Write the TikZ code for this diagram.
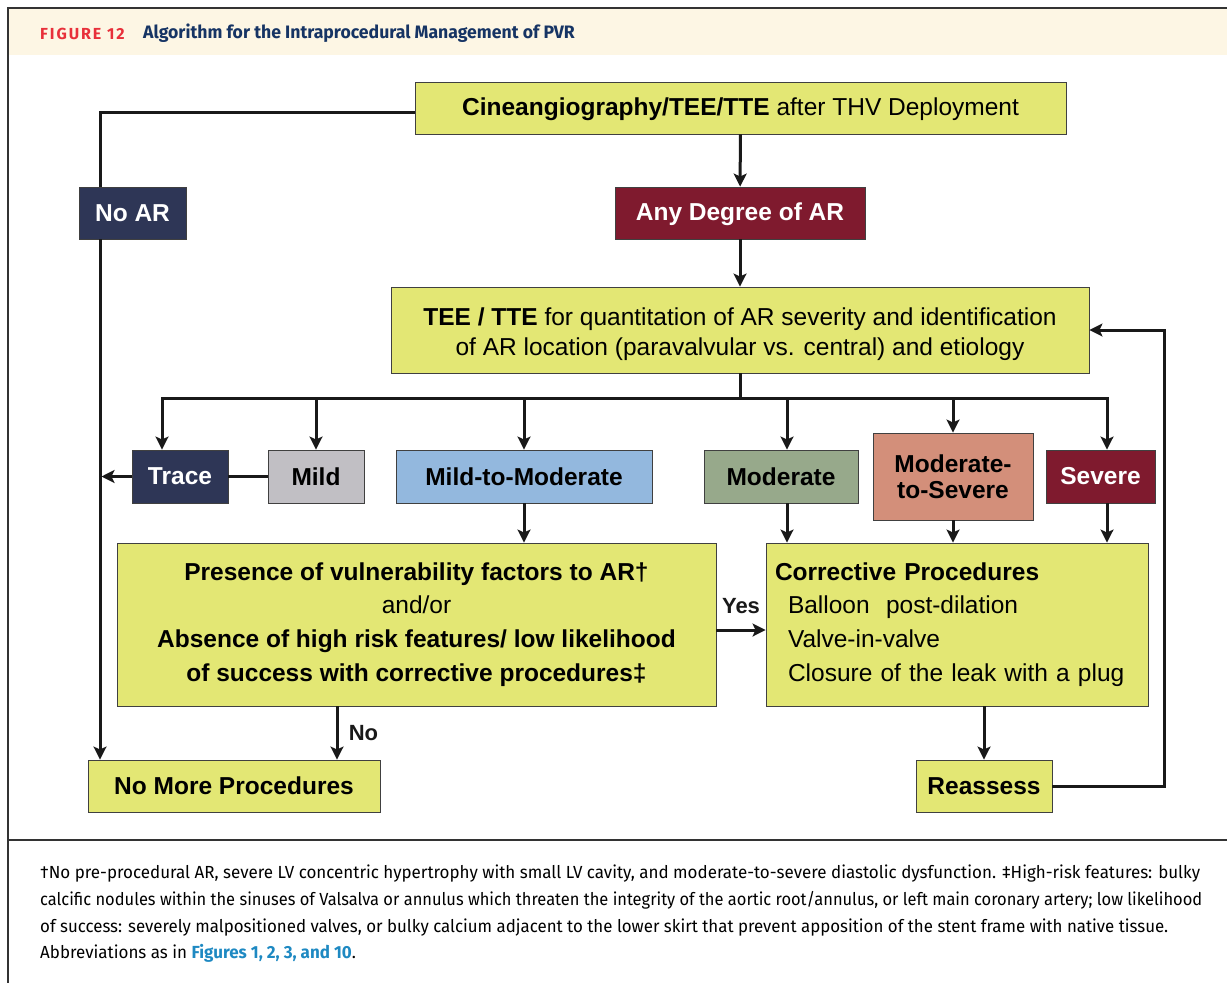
\documentclass[tikz,border=0pt]{standalone}
\usepackage{fontspec}
\setmainfont{Liberation Sans}
\newfontfamily\notefont[FakeStretch=0.97]{Fira Sans}
\newfontfamily\headfont{Fira Sans}
\usepackage{xcolor}
\usepackage{graphicx}
\usetikzlibrary{arrows.meta,positioning,calc}

\definecolor{algyellow}{RGB}{227,231,116}
\definecolor{algnavy}{RGB}{46,54,86}
\definecolor{algred}{RGB}{127,26,46}
\definecolor{alggray}{RGB}{193,191,196}
\definecolor{algblue}{RGB}{147,184,222}
\definecolor{alggreen}{RGB}{151,169,139}
\definecolor{algsalmon}{RGB}{211,143,122}
\definecolor{hdrband}{RGB}{253,246,228}
\definecolor{hdrred}{RGB}{232,48,58}
\definecolor{hdrblue}{RGB}{22,52,100}
\definecolor{linkblue}{RGB}{30,137,194}

\newcommand\noteline[2]{\resizebox{#1}{\height}{#2}}

\begin{document}
\begin{tikzpicture}[x=1pt,y=-1pt,
  box/.style={draw=black!75, line width=0.9pt, inner sep=0pt, align=center,
    font=\fontsize{24.5}{30}\selectfont},
  ybox/.style={box, fill=algyellow},
  dbox/.style={box, text=white, font=\fontsize{24.5}{30}\selectfont\bfseries},
  ln/.style={line width=3pt, black!90},
  arr/.style={ln, -{Stealth[length=13pt,width=13pt,inset=3pt]}}]
\useasboundingbox (0,0) rectangle (1227,983);

% frame and header
\fill[hdrband] (8,8) rectangle (1227,55);
\draw[line width=2pt, black!80] (1227,8) -- (8,8) -- (8,983);
\draw[line width=2pt, black!80] (8,840) -- (1227,840);
\node[anchor=west, inner sep=0pt, text=hdrred,
  font=\headfont\fontsize{16}{18}\selectfont\bfseries] (fig) at (40,33.5)
  {\addfontfeature{LetterSpace=12}FIGURE 12};
\node[anchor=west, inner sep=0pt, text=hdrblue,
  font=\headfont\fontsize{18}{20}\selectfont\bfseries] (title) at (143,33.5)
  {\addfontfeature{FakeStretch=0.98}Algorithm for the Intraprocedural Management of PVR};

% boxes
\node[ybox, minimum width=651pt, minimum height=52pt] (cine) at (740.5,108)
  {\rule{0pt}{21pt}\bfseries Cineangiography/TEE/TTE\mdseries{} after THV Deployment};
\node[dbox, fill=algnavy, minimum width=107pt, minimum height=52pt] (noar) at (132.5,213) {No AR};
\node[dbox, fill=algred, minimum width=250pt, minimum height=52pt] (any) at (740,213) {\rule{0pt}{20pt}Any Degree of AR};
\node[ybox, minimum width=698pt, minimum height=86pt] (tee) at (740,330)
  {\rule{0pt}{26pt}\textbf{TEE / TTE} for quantitation of AR severity and identification\\
   of AR location (paravalvular vs. central) and etiology};

\node[dbox, fill=algnavy, minimum width=96pt, minimum height=53pt] (trace) at (180,476.5) {Trace};
\node[box, fill=alggray, minimum width=96pt, minimum height=53pt] (mild) at (316,476.5) {\bfseries Mild};
\node[box, fill=algblue, minimum width=256pt, minimum height=53pt] (mm) at (524,476.5) {\bfseries Mild-to-Moderate};
\node[box, fill=alggreen, minimum width=154pt, minimum height=53pt] (mod) at (781,476.5) {\bfseries Moderate};
\node[box, fill=algsalmon, minimum width=160pt, minimum height=87pt,
  font=\fontsize{24.5}{26}\selectfont\bfseries] (ms) at (953,476.5) {Moderate-\\to-Severe};
\node[dbox, fill=algred, minimum width=109pt, minimum height=53pt] (sev) at (1100.5,476.5) {Severe};

\node[ybox, minimum width=599pt, minimum height=163pt,
  font=\fontsize{24.5}{33.7}\selectfont] (pres) at (416.5,624.5)
  {\textbf{Presence of vulnerability factors to AR\textdagger}\\
   and/or\\
   \textbf{Absence of high risk features/ low likelihood}\\
   \textbf{of success with corrective procedures\textdaggerdbl}};
\node[ybox, text width=364pt, inner xsep=9pt, align=left, minimum height=163pt,
  font=\fontsize{24.5}{33.7}\selectfont] (corr) at (957,624.5)
  {\textbf{Corrective Procedures}\\
   \hspace*{13pt}Balloon\ \ post-dilation\\
   \hspace*{13pt}Valve-in-valve\\
   \hspace*{13pt}Closure of the leak with a plug};

\node[ybox, minimum width=292pt, minimum height=52pt] (nomore) at (234,786) {\bfseries No More Procedures};
\node[ybox, minimum width=136pt, minimum height=52pt] (reas) at (984,786) {\bfseries Reassess};

% connectors
\coordinate (spine) at (100,112);
\draw[ln] (cine.west |- spine) -- (spine) -- (spine |- noar.north);
\draw[arr] (spine |- noar.south) -- (spine |- nomore.north);
\draw[arr] (cine) -- (any);
\draw[arr] (any) -- (tee);

\coordinate (bus) at (740,398);
\draw[ln] (tee.south) -- (bus);
\foreach \x [count=\i] in {162,316,524,787,953,1107}
  \coordinate (b\i) at (\x,398);
\draw[ln, line cap=rect] (b1) -- (b6);
\foreach \i/\n in {1/trace,2/mild,3/mm,4/mod,5/ms,6/sev}
  \draw[arr] (b\i) -- (b\i |- \n.north);

\draw[ln] (mild.west) -- (trace.east);
\draw[arr] (trace.west) -- ([xshift=1.5pt]spine |- trace.west);
\draw[arr] (mm.south) -- (mm.south |- pres.north);
\foreach \i/\n in {4/mod,5/ms,6/sev}
  \draw[arr] (b\i |- \n.south) -- (b\i |- corr.north);

\draw[arr] ([yshift=-5.5pt]pres.east) -- ([yshift=-5.5pt]corr.west)
  node[midway, above=11pt, font=\fontsize{22}{24}\selectfont\bfseries] (yes) {Yes};
\draw[arr] ([xshift=-79.5pt]pres.south) -- ([xshift=-79.5pt]pres.south |- nomore.north)
  node[midway, right=7pt, font=\fontsize{22}{24}\selectfont\bfseries] (no) {No};
\draw[arr] (reas.north |- corr.south) -- (reas.north);
\draw[arr] (reas.east) -- ++(112,0) |- (tee.east);

% footnote
\node[anchor=north west, align=left, inner sep=0pt,
  font=\notefont\fontsize{17.5}{26.7}\selectfont] (note) at (40,865)
  {\noteline{1160pt}{\textdagger No pre-procedural AR, severe LV concentric hypertrophy with small LV cavity, and moderate-to-severe diastolic dysfunction. \textdaggerdbl High-risk features: bulky}\\
   \noteline{1162pt}{calcific nodules within the sinuses of Valsalva or annulus which threaten the integrity of the aortic root/annulus, or left main coronary artery; low likelihood}\\
   \noteline{1128pt}{of success: severely malpositioned valves, or bulky calcium adjacent to the lower skirt that prevent apposition of the stent frame with native tissue.}\\
   Abbreviations as in \textcolor{linkblue}{\bfseries Figures 1, 2, 3, and 10}.};
\end{tikzpicture}
\end{document}
